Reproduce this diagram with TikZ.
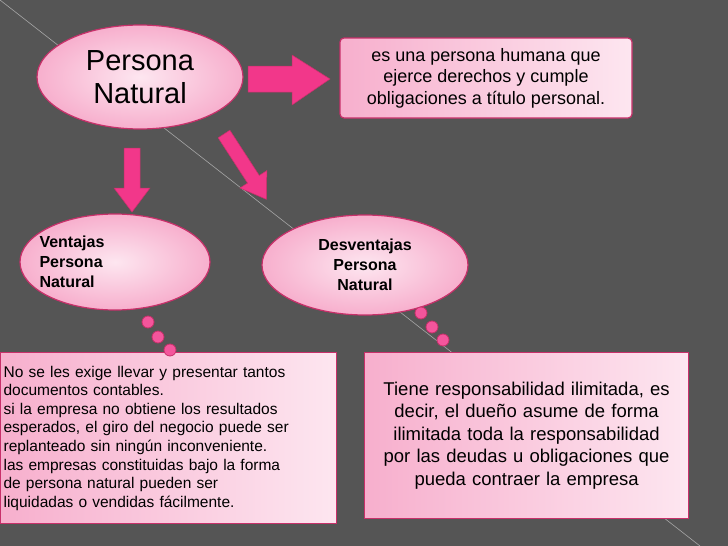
\documentclass[tikz,border=0pt]{standalone}
\usepackage{fontspec}
\setmainfont{Liberation Sans}
\usetikzlibrary{shapes.geometric}
\definecolor{bg}{HTML}{555555}
\definecolor{pk}{HTML}{F7AFCD}
\definecolor{pkl}{HTML}{FDE6F0}
\definecolor{bd}{HTML}{C8306A}
\definecolor{ar}{HTML}{F2378A}
\tikzset{
 blob/.style={draw=bd,line width=1.2pt,inner color=pkl,outer color=pk,ellipse},
 box/.style={draw=bd,line width=1.2pt,left color=pk,right color=pkl,rounded corners=4pt,minimum width=#1},
 bub/.style={circle,draw=bd,fill=ar!85,minimum size=12pt,inner sep=0pt,line width=0.8pt},
 arw/.style={fill=ar,draw=bd,line width=0.5pt}
}
\begin{document}
\begin{tikzpicture}[x=1pt,y=-1pt]
\fill[bg] (0,0) rectangle (728,546);
\useasboundingbox (0,0) rectangle (728,546);
\draw[gray!70,line width=0.6pt] (0,0) -- (700,546);
\node[blob,minimum width=206pt,minimum height=104pt,font=\fontsize{29}{33}\selectfont,align=center] (pn) at (140,77) {Persona\\Natural};
\node[box=292pt,minimum height=80pt,align=center,font=\fontsize{18}{21.5}\selectfont] (def) at (486,78) {es una persona humana que\\ejerce derechos y cumple\\obligaciones a título personal.};
% arrows
\coordinate (a1) at (248,79);
\draw[arw] (a1) ++(0,-13) -- ++(44,0) -- ++(0,-11) -- ++(38,24) -- ++(-38,26) -- ++(0,-13) -- ++(-44,0) -- cycle;
\coordinate (a2) at (132,148);
\draw[arw] (a2) ++(-8,0) -- ++(16,0) -- ++(0,40) -- ++(10,0) -- ++(-18,24) -- ++(-18,-24) -- ++(10,0) -- cycle;
\begin{scope}[shift={(224,134)},rotate=33]
\coordinate (a3) at (0,0);
\draw[arw] (a3) ++(-7,0) -- ++(14,0) -- ++(0,54) -- ++(9,0) -- ++(-16,24) -- ++(-16,-24) -- ++(9,0) -- cycle;
\end{scope}
\node[blob,minimum width=190pt,minimum height=96pt] (v) at (115,262) {};
\node[anchor=west,align=left,font=\bfseries\fontsize{16}{20}\selectfont] (vt) at (36,262) {Ventajas\\Persona\\Natural};
\node[blob,minimum width=206pt,minimum height=100pt,align=center,font=\bfseries\fontsize{16}{20}\selectfont] (d) at (365,265) {Desventajas\\Persona\\Natural};
\node[box=335pt,minimum height=171pt,rounded corners=0pt,anchor=north west,text width=330pt,align=left,font=\fontsize{15.5}{18.6}\selectfont,inner sep=3pt] (vl) at (0,352) {No se les exige llevar y presentar tantos\\documentos contables.\\si la empresa no obtiene los resultados\\esperados, el giro del negocio puede ser\\replanteado sin ningún inconveniente.\\las empresas constituidas bajo la forma\\de persona natural pueden ser\\liquidadas o vendidas fácilmente.};
\node[box=324pt,minimum height=166pt,rounded corners=0pt,anchor=north west,text width=318pt,align=center,font=\fontsize{18.5}{22.5}\selectfont,inner sep=3pt] (dl) at (364,352) {Tiene responsabilidad ilimitada, es\\decir, el dueño asume de forma\\ilimitada toda la responsabilidad\\por las deudas u obligaciones que\\pueda contraer la empresa};
\node[bub] (b1) at (148,322) {};
\node[bub] (b2) at (158,337) {};
\node[bub] (b3) at (170,350) {};
\node[bub] (c1) at (421,313) {};
\node[bub] (c2) at (432,327) {};
\node[bub] (c3) at (443,340) {};
\end{tikzpicture}
\end{document}
